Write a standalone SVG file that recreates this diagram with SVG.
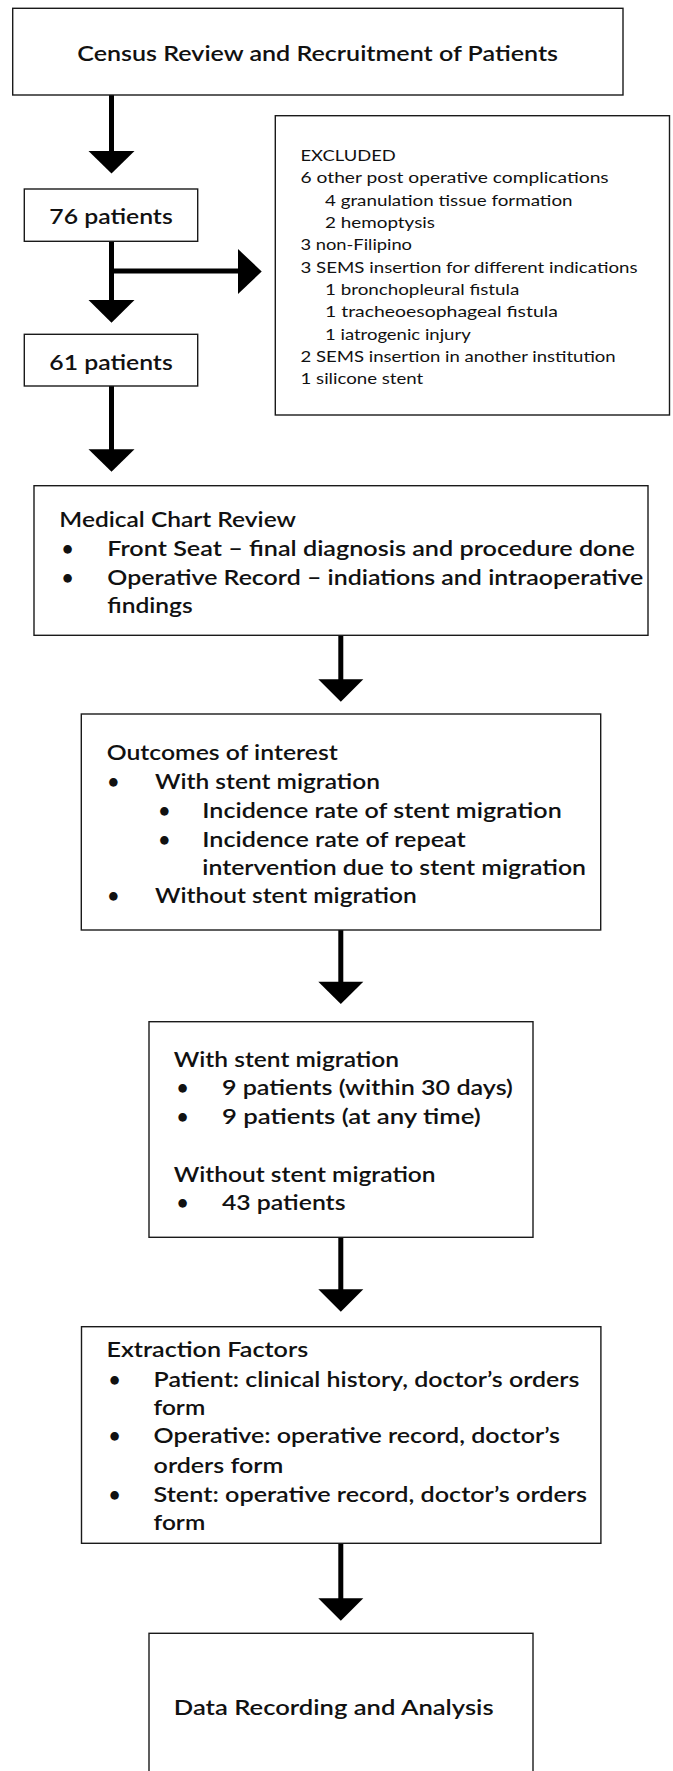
<svg xmlns="http://www.w3.org/2000/svg" width="673" height="1771" viewBox="0 0 673 1771">
<style>
.box{fill:#fff;stroke:#1a1a1a;stroke-width:1.4}
.t{font-family:"Lato","DejaVu Sans",sans-serif;font-size:21px;font-weight:600;fill:#111}
.s{font-family:"Lato","DejaVu Sans",sans-serif;font-size:16px;font-weight:400;fill:#111}
.shaft{stroke:#000;stroke-width:5;fill:none}
.head{fill:#000}
</style>
<rect width="673" height="1771" fill="#fff"/>
<g id="connectors">
<line class="shaft" x1="111.5" y1="95" x2="111.5" y2="152"/>
<polygon class="head" points="88.5,151 134.5,151 111.5,173.5"/>
<line class="shaft" x1="111.5" y1="241" x2="111.5" y2="301"/>
<polygon class="head" points="88.5,300 134.5,300 111.5,322.7"/>
<line class="shaft" x1="111.5" y1="271" x2="239" y2="271"/>
<polygon class="head" points="238,249 238,294 261.7,271.5"/>
<line class="shaft" x1="111.5" y1="386" x2="111.5" y2="450"/>
<polygon class="head" points="88.5,449.3 134.5,449.3 111.5,471.7"/>
<line class="shaft" x1="340.8" y1="635.3" x2="340.8" y2="680"/>
<polygon class="head" points="318.3,679.3 363.3,679.3 340.8,701.7"/>
<line class="shaft" x1="340.8" y1="930" x2="340.8" y2="982"/>
<polygon class="head" points="318.3,981.7 363.3,981.7 340.8,1004"/>
<line class="shaft" x1="340.8" y1="1237.3" x2="340.8" y2="1290"/>
<polygon class="head" points="318.3,1289.3 363.3,1289.3 340.8,1311.7"/>
<line class="shaft" x1="340.8" y1="1543.3" x2="340.8" y2="1599"/>
<polygon class="head" points="318.3,1598.3 363.3,1598.3 340.8,1620.7"/>
</g>
<g id="census">
<rect class="box" x="12.7" y="8.3" width="610.3" height="86.7"/>
<text class="t" x="77.3" y="61" textLength="480.7" lengthAdjust="spacingAndGlyphs">Census Review and Recruitment of Patients</text>
</g>
<g id="n76">
<rect class="box" x="24.3" y="189" width="173.4" height="52.3"/>
<text class="t" x="49.3" y="224" textLength="123.4" lengthAdjust="spacingAndGlyphs">76 patients</text>
</g>
<g id="n61">
<rect class="box" x="24.3" y="334.3" width="173.4" height="51.7"/>
<text class="t" x="49.3" y="370" textLength="123.4" lengthAdjust="spacingAndGlyphs">61 patients</text>
</g>
<g id="excluded">
<rect class="box" x="275.3" y="115.7" width="394.2" height="299.3"/>
<text class="s" x="300.5" y="161" textLength="95.3" lengthAdjust="spacingAndGlyphs">EXCLUDED</text>
<text class="s" x="300.5" y="183.2" textLength="308.2" lengthAdjust="spacingAndGlyphs">6 other post operative complications</text>
<text class="s" x="325" y="205.6" textLength="247.5" lengthAdjust="spacingAndGlyphs">4 granulation tissue formation</text>
<text class="s" x="325" y="227.9" textLength="110" lengthAdjust="spacingAndGlyphs">2 hemoptysis</text>
<text class="s" x="300.5" y="250.2" textLength="111.5" lengthAdjust="spacingAndGlyphs">3 non-Filipino</text>
<text class="s" x="300.5" y="272.6" textLength="337" lengthAdjust="spacingAndGlyphs">3 SEMS insertion for different indications</text>
<text class="s" x="325" y="294.9" textLength="194.3" lengthAdjust="spacingAndGlyphs">1 bronchopleural fistula</text>
<text class="s" x="325" y="317.2" textLength="233" lengthAdjust="spacingAndGlyphs">1 tracheoesophageal fistula</text>
<text class="s" x="325" y="339.6" textLength="145.7" lengthAdjust="spacingAndGlyphs">1 iatrogenic injury</text>
<text class="s" x="300.5" y="361.9" textLength="315.2" lengthAdjust="spacingAndGlyphs">2 SEMS insertion in another institution</text>
<text class="s" x="300.5" y="384.2" textLength="122.8" lengthAdjust="spacingAndGlyphs">1 silicone stent</text>
</g>
<g id="chart">
<rect class="box" x="34" y="485.7" width="614" height="149.6"/>
<text class="t" x="59.3" y="526.7" textLength="236.7" lengthAdjust="spacingAndGlyphs">Medical Chart Review</text>
<text class="t" x="61.5" y="556">•</text>
<text class="t" x="107.3" y="556" textLength="527.7" lengthAdjust="spacingAndGlyphs">Front Seat – final diagnosis and procedure done</text>
<text class="t" x="61.5" y="585">•</text>
<text class="t" x="107.3" y="585" textLength="536" lengthAdjust="spacingAndGlyphs">Operative Record – indiations and intraoperative</text>
<text class="t" x="107.3" y="613.3" textLength="85.4" lengthAdjust="spacingAndGlyphs">findings</text>
</g>
<g id="outcomes">
<rect class="box" x="81.3" y="714" width="519.4" height="216"/>
<text class="t" x="106.7" y="760" textLength="231.1" lengthAdjust="spacingAndGlyphs">Outcomes of interest</text>
<text class="t" x="107.2" y="789.3">•</text>
<text class="t" x="155" y="789.3" textLength="225" lengthAdjust="spacingAndGlyphs">With stent migration</text>
<text class="t" x="158.2" y="818.3">•</text>
<text class="t" x="202.3" y="818.3" textLength="359.4" lengthAdjust="spacingAndGlyphs">Incidence rate of stent migration</text>
<text class="t" x="158.2" y="846.7">•</text>
<text class="t" x="202.3" y="846.7" textLength="263.4" lengthAdjust="spacingAndGlyphs">Incidence rate of repeat</text>
<text class="t" x="202.3" y="875" textLength="383.7" lengthAdjust="spacingAndGlyphs">intervention due to stent migration</text>
<text class="t" x="107.2" y="903.3">•</text>
<text class="t" x="155" y="903.3" textLength="261.7" lengthAdjust="spacingAndGlyphs">Without stent migration</text>
</g>
<g id="results">
<rect class="box" x="149" y="1021.7" width="384" height="215.6"/>
<text class="t" x="173.8" y="1066.7" textLength="225.3" lengthAdjust="spacingAndGlyphs">With stent migration</text>
<text class="t" x="176.4" y="1095">•</text>
<text class="t" x="221.9" y="1095" textLength="291" lengthAdjust="spacingAndGlyphs">9 patients (within 30 days)</text>
<text class="t" x="176.4" y="1124">•</text>
<text class="t" x="221.9" y="1124" textLength="258.8" lengthAdjust="spacingAndGlyphs">9 patients (at any time)</text>
<text class="t" x="173.8" y="1181.7" textLength="261.8" lengthAdjust="spacingAndGlyphs">Without stent migration</text>
<text class="t" x="176.4" y="1210">•</text>
<text class="t" x="221.9" y="1210" textLength="123.6" lengthAdjust="spacingAndGlyphs">43 patients</text>
</g>
<g id="extraction">
<rect class="box" x="81.5" y="1326.7" width="519.4" height="216.6"/>
<text class="t" x="106.4" y="1357.3" textLength="201.8" lengthAdjust="spacingAndGlyphs">Extraction Factors</text>
<text class="t" x="108.6" y="1386.7">•</text>
<text class="t" x="153.6" y="1386.7" textLength="425.8" lengthAdjust="spacingAndGlyphs">Patient: clinical history, doctor’s orders</text>
<text class="t" x="153.6" y="1415" textLength="51.6" lengthAdjust="spacingAndGlyphs">form</text>
<text class="t" x="108.6" y="1443.3">•</text>
<text class="t" x="153.6" y="1443.3" textLength="406.4" lengthAdjust="spacingAndGlyphs">Operative: operative record, doctor’s</text>
<text class="t" x="153.6" y="1473.3" textLength="129.7" lengthAdjust="spacingAndGlyphs">orders form</text>
<text class="t" x="108.6" y="1501.7">•</text>
<text class="t" x="153.6" y="1501.7" textLength="433.5" lengthAdjust="spacingAndGlyphs">Stent: operative record, doctor’s orders</text>
<text class="t" x="153.6" y="1530" textLength="51.6" lengthAdjust="spacingAndGlyphs">form</text>
</g>
<g id="data">
<rect class="box" x="149" y="1633.3" width="384" height="170"/>
<text class="t" x="173.8" y="1715" textLength="319.8" lengthAdjust="spacingAndGlyphs">Data Recording and Analysis</text>
</g>
</svg>
